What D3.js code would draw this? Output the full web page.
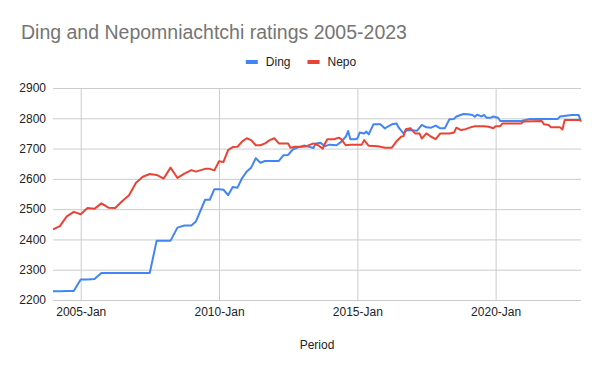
<html lang="en">
<head>
  <meta charset="UTF-8"/>
  <title>Ding and Nepomniachtchi ratings</title>
  <script src="https://d3js.org/d3.v7.min.js"></script>
</head>
<style>
body {
  margin: 0;
  font-family: 'Liberation Sans', Arial, sans-serif;
  background: #fff;
}

svg {
  display: block;
}

text {
  font-size: 12px;
  fill: #222;
}

text.title {
  font-size: 19.5px;
  fill: #757575;
}

.grid line {
  stroke: #ccc;
  stroke-width: 1;
}

.grid path {
  stroke-width: 0;
}

.axis path,
.axis line {
  display: none;
}

path.series {
  fill: none;
  stroke-width: 2;
  stroke-linejoin: round;
}
</style>
<body>
<svg width="600" height="371"></svg>
<script>
    const seriesNames = ['Ding', 'Nepo'];
    const seriesColors = ['#4285f4', '#ea4335'];

    const yTicks = [2200, 2300, 2400, 2500, 2600, 2700, 2800, 2900];
    const xTickLabels = ['2005-Jan', '2010-Jan', '2015-Jan', '2020-Jan'];

    const dingPeriods = [
      '2004-01', '2004-04', '2004-07', '2004-10', '2005-01', '2005-04', '2005-07', '2005-10',
      '2006-01', '2006-04', '2006-07', '2006-10', '2007-01', '2007-04', '2007-07', '2007-10',
      '2008-01', '2008-04', '2008-07', '2008-10', '2009-01', '2009-03', '2009-07', '2009-09',
      '2009-11', '2010-01', '2010-03', '2010-05', '2010-07', '2010-09', '2010-11', '2011-01',
      '2011-03', '2011-05', '2011-07', '2011-09', '2011-11', '2012-01', '2012-03', '2012-05',
      '2012-07', '2012-09', '2012-11', '2013-02', '2013-03', '2013-06', '2013-07', '2013-09',
      '2013-11', '2014-01', '2014-04', '2014-06', '2014-08', '2014-09', '2014-10', '2014-12',
      '2015-01', '2015-02', '2015-04', '2015-05', '2015-06', '2015-08', '2015-11', '2016-01',
      '2016-02', '2016-04', '2016-06', '2016-07', '2016-09', '2016-10', '2016-11', '2017-03',
      '2017-05', '2017-07', '2017-09', '2017-11', '2018-01', '2018-03', '2018-05', '2018-07',
      '2018-08', '2018-11', '2019-01', '2019-03', '2019-04', '2019-05', '2019-07', '2019-08',
      '2019-09', '2019-11', '2019-12', '2020-02', '2020-03', '2020-12', '2021-04', '2022-04',
      '2022-05', '2022-10', '2023-01', '2023-02'
    ];
    const dingRatings = [
      2229, 2229, 2230, 2230, 2268, 2268, 2269, 2289,
      2289, 2289, 2289, 2289, 2289, 2289, 2289, 2396,
      2396, 2396, 2439, 2446, 2446, 2459, 2531, 2531,
      2566, 2566, 2564, 2546, 2573, 2571, 2602, 2624,
      2637, 2668, 2653, 2659, 2659, 2659, 2659, 2678,
      2679, 2697, 2703, 2710, 2708, 2702, 2717, 2719,
      2708, 2713, 2711, 2722, 2739, 2758, 2731, 2731,
      2733, 2753, 2750, 2756, 2747, 2780, 2780, 2766,
      2772, 2780, 2783, 2769, 2750, 2758, 2761, 2759,
      2778, 2770, 2769, 2776, 2767, 2767, 2797, 2798,
      2806, 2814, 2813, 2811, 2805, 2812, 2806, 2811,
      2802, 2802, 2806, 2802, 2791, 2791, 2798, 2798,
      2806, 2811, 2811, 2789
    ];

    const nepoPeriods = [
      '2004-01', '2004-04', '2004-07', '2004-10', '2005-01', '2005-04', '2005-07', '2005-10',
      '2006-01', '2006-04', '2006-07', '2006-10', '2007-01', '2007-04', '2007-07', '2007-10',
      '2008-01', '2008-04', '2008-07', '2008-10', '2009-01', '2009-03', '2009-07', '2009-09',
      '2009-11', '2010-01', '2010-03', '2010-05', '2010-07', '2010-09', '2010-11', '2011-01',
      '2011-03', '2011-05', '2011-07', '2011-09', '2011-11', '2012-01', '2012-03', '2012-05',
      '2012-07', '2012-08', '2012-10', '2013-01', '2013-03', '2013-06', '2013-08', '2013-10',
      '2013-11', '2013-12', '2014-03', '2014-05', '2014-06', '2014-08', '2014-10', '2015-03',
      '2015-04', '2015-06', '2015-10', '2016-01', '2016-04', '2016-06', '2016-08', '2016-09',
      '2016-10', '2016-12', '2017-02', '2017-04', '2017-05', '2017-07', '2017-09', '2017-11',
      '2018-01', '2018-05', '2018-07', '2018-08', '2018-10', '2018-12', '2019-02', '2019-04',
      '2019-08', '2019-10', '2019-12', '2020-01', '2020-03', '2020-04', '2020-12', '2021-01',
      '2021-09', '2021-10', '2021-12', '2022-01', '2022-05', '2022-06', '2022-07', '2023-02'
    ];
    const nepoRatings = [
      2433, 2444, 2476, 2491, 2483, 2504, 2501, 2519,
      2505, 2504, 2526, 2546, 2587, 2607, 2616, 2613,
      2601, 2637, 2603, 2617, 2629, 2624, 2633, 2633,
      2628, 2658, 2656, 2695, 2705, 2706, 2723, 2734,
      2728, 2711, 2711, 2717, 2728, 2734, 2717, 2717,
      2717, 2703, 2706, 2706, 2708, 2717, 2711, 2700,
      2717, 2731, 2731, 2736, 2731, 2711, 2713, 2713,
      2728, 2709, 2708, 2703, 2703, 2724, 2739, 2741,
      2764, 2767, 2750, 2750, 2733, 2750, 2739, 2731,
      2750, 2750, 2753, 2769, 2761, 2764, 2770, 2774,
      2774, 2772, 2767, 2774, 2774, 2783, 2783, 2789,
      2791, 2780, 2778, 2770, 2770, 2763, 2794, 2794
    ];

    const parsePeriod = d3.timeParse('%Y-%m');
    const parseTick = d3.timeParse('%Y-%b');

    const series = [
      { name: seriesNames[0], color: seriesColors[0],
        points: dingPeriods.map((p, i) => ({ date: parsePeriod(p), value: dingRatings[i] })) },
      { name: seriesNames[1], color: seriesColors[1],
        points: nepoPeriods.map((p, i) => ({ date: parsePeriod(p), value: nepoRatings[i] })) }
    ];

    const svg = d3.select('svg');

    const plotLeft = 53;
    const plotRight = 581;
    const plotTop = 88;
    const plotBottom = 300;

    const xScale = d3.scaleTime()
      .domain([parsePeriod('2004-01'), parsePeriod('2023-02')])
      .range([plotLeft, plotRight]);

    const yScale = d3.scaleLinear()
      .domain([yTicks[0], yTicks[yTicks.length - 1]])
      .range([plotBottom, plotTop]);

    // horizontal grid lines
    svg.append('g')
      .attr('class', 'grid')
      .attr('transform', `translate(${plotLeft}, 0)`)
      .call(d3.axisLeft(yScale)
        .tickValues(yTicks)
        .tickSize(-(plotRight - plotLeft))
        .tickFormat('')
      );

    // vertical grid lines
    svg.append('g')
      .attr('class', 'grid')
      .attr('transform', `translate(0, ${plotBottom})`)
      .call(d3.axisBottom(xScale)
        .tickValues(xTickLabels.map(parseTick))
        .tickSize(-(plotBottom - plotTop))
        .tickFormat('')
      );

    // y labels
    svg.append('g')
      .attr('class', 'axis')
      .attr('transform', `translate(${plotLeft}, 0)`)
      .call(d3.axisLeft(yScale)
        .tickValues(yTicks)
        .tickSize(0)
        .tickPadding(7)
        .tickFormat(d3.format('d'))
      )
      .selectAll('text')
      .style('font-size', '12px')
      .style('font-family', "'Liberation Sans', Arial, sans-serif")
      .attr('fill', '#222');

    // x labels
    svg.append('g')
      .attr('class', 'axis')
      .attr('transform', `translate(0, ${plotBottom})`)
      .call(d3.axisBottom(xScale)
        .tickValues(xTickLabels.map(parseTick))
        .tickSize(0)
        .tickPadding(7)
        .tickFormat(d3.timeFormat('%Y-%b'))
      )
      .selectAll('text')
      .style('font-size', '12px')
      .style('font-family', "'Liberation Sans', Arial, sans-serif")
      .attr('fill', '#222');

    const line = d3.line()
      .x((d) => xScale(d.date))
      .y((d) => yScale(d.value));

    svg.selectAll('path.series')
      .data(series)
      .enter()
      .append('path')
      .attr('class', 'series')
      .attr('stroke', (s) => s.color)
      .attr('d', (s) => line(s.points));

    // title
    svg.append('text')
      .attr('class', 'title')
      .attr('x', 21)
      .attr('y', 39)
      .text('Ding and Nepomniachtchi ratings 2005-2023');

    // legend
    const legend = svg.append('g');
    let lx = 0;
    series.forEach((s) => {
      const item = legend.append('g').attr('transform', `translate(${lx}, 0)`);
      item.append('rect')
        .attr('x', 0)
        .attr('y', -2)
        .attr('width', 12)
        .attr('height', 4)
        .attr('fill', s.color);
      const t = item.append('text')
        .attr('x', 20)
        .attr('y', 4)
        .text(s.name);
      lx += 20 + t.node().getComputedTextLength() + 17;
    });
    const legendWidth = lx - 17;
    legend.attr('transform', `translate(${301 - legendWidth / 2}, 62)`);

    svg.append('text')
      .attr('x', (plotLeft + plotRight) / 2)
      .attr('y', 349)
      .attr('text-anchor', 'middle')
      .text('Period');
</script>
</body>
</html>
